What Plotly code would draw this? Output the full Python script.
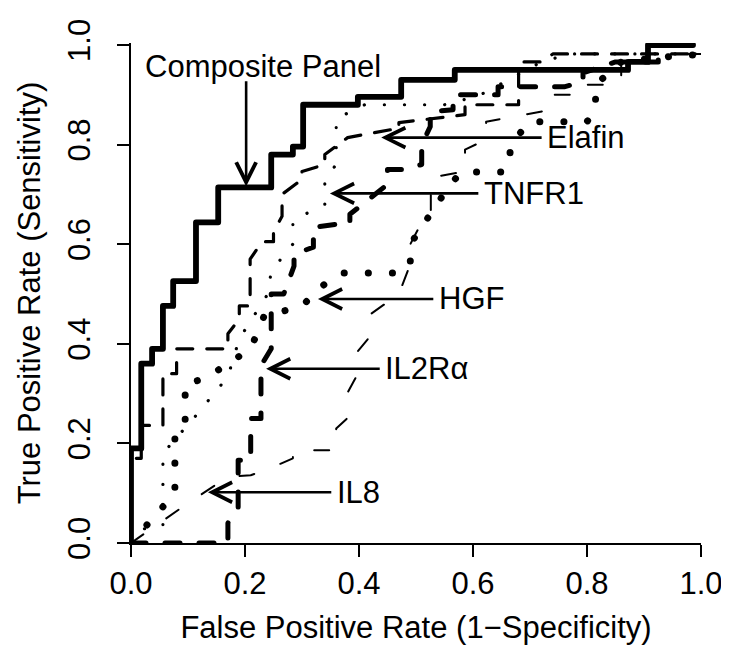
import plotly.graph_objects as go

# ---- data ----
composite_fpr = [0, 0, 0.018, 0.018, 0.037, 0.037, 0.056, 0.056, 0.074, 0.074, 0.114, 0.114, 0.153, 0.153,
                 0.246, 0.246, 0.284, 0.284, 0.302, 0.302, 0.398, 0.398, 0.474, 0.474, 0.568, 0.568,
                 0.872, 0.872, 0.907, 0.907, 0.986]
composite_tpr = [0, 0.19, 0.19, 0.36, 0.36, 0.39, 0.39, 0.476, 0.476, 0.526, 0.526, 0.644, 0.644, 0.714,
                 0.714, 0.78, 0.78, 0.796, 0.796, 0.88, 0.88, 0.896, 0.896, 0.93, 0.93, 0.95,
                 0.95, 0.966, 0.966, 1.0, 1.0]

elafin_fpr = [0, 0, 0.018, 0.018, 0.056, 0.056, 0.08, 0.08, 0.17, 0.17, 0.19, 0.19, 0.209, 0.209, 0.23, 0.25,
              0.25, 0.265, 0.265, 0.30, 0.30, 0.34, 0.34, 0.38, 0.456, 0.47, 0.47, 0.586, 0.586, 0.68,
              0.68, 0.72, 0.74, 1.0]
elafin_tpr = [0, 0.17, 0.17, 0.236, 0.236, 0.34, 0.34, 0.39, 0.39, 0.42, 0.45, 0.476, 0.476, 0.57, 0.605,
              0.605, 0.625, 0.656, 0.70, 0.73, 0.746, 0.76, 0.78, 0.814, 0.83, 0.83, 0.844, 0.86, 0.88,
              0.88, 0.966, 0.966, 0.982, 0.982]

tnfr1_fpr = [0, 0.02, 0.056, 0.056, 0.114, 0.17, 0.19, 0.24, 0.246, 0.284, 0.284, 0.34, 0.34, 0.36, 0.36,
             0.41, 0.55, 0.61, 0.72, 0.77, 1.0]
tnfr1_tpr = [0, 0.028, 0.034, 0.18, 0.256, 0.334, 0.41, 0.50, 0.546, 0.60, 0.648, 0.68, 0.73, 0.76, 0.852,
             0.88, 0.88, 0.898, 0.966, 0.982, 0.982]

hgf_fpr = [0, 0.077, 0.077, 0.095, 0.095, 0.13, 0.21, 0.22, 0.235, 0.265, 0.30, 0.32, 0.35, 0.37, 0.47,
           0.49, 0.49, 0.56, 0.58, 0.65, 0.665, 0.665, 0.70, 0.80, 0.815, 0.815, 0.86, 0.97, 1.0]
hgf_tpr = [0, 0.10, 0.21, 0.23, 0.32, 0.33, 0.39, 0.42, 0.46, 0.465, 0.475, 0.50, 0.53, 0.542, 0.542,
           0.56, 0.60, 0.72, 0.745, 0.745, 0.76, 0.80, 0.846, 0.846, 0.87, 0.92, 0.966, 0.98, 0.98]

il2ra_fpr = [0, 0.17, 0.17, 0.188, 0.188, 0.21, 0.21, 0.228, 0.228, 0.246, 0.246, 0.268, 0.286, 0.286,
             0.32, 0.32, 0.36, 0.384, 0.384, 0.45, 0.45, 0.477, 0.51, 0.51, 0.525, 0.525, 0.565, 0.565,
             0.644, 0.644, 0.76, 0.793, 0.793, 0.85, 0.925, 0.925, 0.986]
il2ra_tpr = [0, 0, 0.04, 0.07, 0.166, 0.166, 0.25, 0.25, 0.356, 0.39, 0.50, 0.50, 0.556, 0.58,
             0.594, 0.634, 0.64, 0.64, 0.66, 0.72, 0.75, 0.75, 0.76, 0.80, 0.836, 0.866, 0.87, 0.90,
             0.90, 0.916, 0.916, 0.926, 0.944, 0.966, 0.966, 1.0, 1.0]

il8_fpr = [0, 0.1, 0.17, 0.21, 0.25, 0.284, 0.284, 0.36, 0.36, 0.379, 0.379, 0.398, 0.398, 0.416, 0.416,
           0.47, 0.49, 0.49, 0.51, 0.526, 0.526, 0.586, 0.586, 0.623, 0.623, 0.737, 0.737, 0.80, 0.80,
           0.86, 0.86, 1.0]
il8_tpr = [0, 0.08, 0.133, 0.136, 0.153, 0.17, 0.186, 0.186, 0.23, 0.25, 0.30, 0.34, 0.385, 0.41, 0.456,
           0.50, 0.56, 0.60, 0.644, 0.65, 0.734, 0.746, 0.79, 0.81, 0.846, 0.87, 0.90, 0.90, 0.92,
           0.92, 0.982, 0.982]

x_ticks = [0.0, 0.2, 0.4, 0.6, 0.8, 1.0]
y_ticks = [0.0, 0.2, 0.4, 0.6, 0.8, 1.0]
x_tick_text = ["0.0", "0.2", "0.4", "0.6", "0.8", "1.0"]
y_tick_text = ["0.0", "0.2", "0.4", "0.6", "0.8", "1.0"]

# labels: (text, arrow tip x, arrow tip y, arrow tail x)
label_names = ["Elafin", "TNFR1", "HGF", "IL2R\u03b1", "IL8"]
label_tip_x = [0.439, 0.349, 0.328, 0.237, 0.135]
label_tip_y = [0.814, 0.702, 0.490, 0.350, 0.102]
label_tail_x = [0.723, 0.612, 0.533, 0.439, 0.354]

FONT = "Liberation Sans, Arial, Helvetica, sans-serif"
FS = 31

fig = go.Figure()

def add(x, y, name, width, dash):
    fig.add_trace(go.Scatter(x=x, y=y, mode="lines", name=name,
                             line=dict(color="black", width=width, dash=dash),
                             hoverinfo="skip"))

add(composite_fpr, composite_tpr, "Composite Panel", 5.8, "solid")
add(elafin_fpr, elafin_tpr, "Elafin", 3.2, "16px,14px")
add(tnfr1_fpr, tnfr1_tpr, "TNFR1", 3.2, "0.1px,20px")
add(hgf_fpr, hgf_tpr, "HGF", 7, "0.1px,24px")
add(il2ra_fpr, il2ra_tpr, "IL2Ra", 5, "15px,19px")
add(il8_fpr, il8_tpr, "IL8", 2, "15px,28px")

ARROW = dict(showarrow=True, arrowhead=5, arrowsize=1.5, arrowwidth=2.6, arrowcolor="black")
ann = []
ann.append(dict(x=0.232, y=0.956, xref="x", yref="y", text="Composite Panel", showarrow=False,
                font=dict(family=FONT, size=FS, color="black")))
ann.append(dict(x=0.202, y=0.716, ax=0.202, ay=0.93, xref="x", yref="y", axref="x", ayref="y",
                text="", **ARROW))
for name, tx, ty, tl in zip(label_names, label_tip_x, label_tip_y, label_tail_x):
    ann.append(dict(x=tx, y=ty, ax=tl, ay=ty, xref="x", yref="y", axref="x", ayref="y",
                    text="", **ARROW))
    ann.append(dict(x=tl, y=ty, xref="x", yref="y", text=name, showarrow=False, xanchor="left",
                    xshift=2, font=dict(family=FONT, size=FS, color="black")))

fig.update_layout(
    width=729, height=651,
    margin=dict(l=123, r=36, t=35, b=116),
    paper_bgcolor="white", plot_bgcolor="white",
    showlegend=False,
    font=dict(family=FONT, size=FS, color="black"),
    annotations=ann,
    xaxis=dict(range=[0, 1], tickvals=x_ticks, ticktext=x_tick_text, showgrid=False, zeroline=False,
               showline=True, linecolor="black", linewidth=1.5, ticks="outside", ticklen=12,
               tickwidth=1.5, tickcolor="black", tickfont=dict(size=FS), automargin=False,
               title=dict(text="False Positive Rate (1\u2212Specificity)", font=dict(size=FS), standoff=16)),
    yaxis=dict(range=[0, 1.004], tickvals=y_ticks, ticktext=y_tick_text, showgrid=False, zeroline=False,
               showline=True, linecolor="black", linewidth=1.5, ticks="outside", ticklen=12,
               tickwidth=1.5, tickcolor="black", tickangle=-90, tickfont=dict(size=FS),
               ticklabelstandoff=15, automargin=False,
               title=dict(text="True Positive Rate (Sensitivity)", font=dict(size=FS), standoff=12)),
)

post = """
var gd = document.getElementById('{plot_id}');
function fixCaps(){
  gd.querySelectorAll('.scatterlayer .js-line').forEach(function(p){
    p.style.strokeLinecap = 'round';
    p.style.strokeLinejoin = 'round';
  });
}
fixCaps();
gd.on('plotly_afterplot', fixCaps);
"""
fig.write_html("out.html", post_script=post)
